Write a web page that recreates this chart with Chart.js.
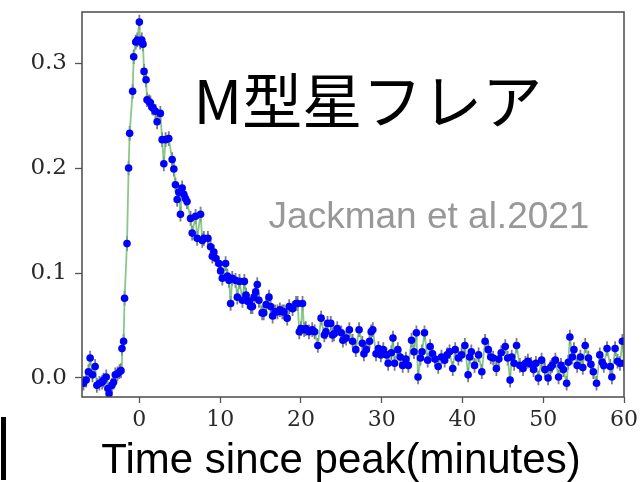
<!DOCTYPE html>
<html>
<head>
<meta charset="utf-8">
<script src="https://cdn.jsdelivr.net/npm/chart.js@4"></script>
<style>
  html, body { margin: 0; padding: 0; background: #fff; }
  canvas { display: block; }
</style>
</head>
<body>
<canvas id="c" width="644" height="482"></canvas>
<script>
// Flare light curve: time since peak (minutes) and relative flux
const timeMin = [
  -6.92,-6.58,-6.3,-6.09,-5.8,-5.47,-5.26,-4.94,-4.6,-4.44,
  -4.1,-3.9,-3.75,-3.4,-3.2,-2.98,-2.7,-2.45,-2.27,-2.15,
  -1.95,-1.83,-1.53,-1.33,-1.2,-0.83,-0.7,-0.45,-0.25,0.0,
  0.1,0.3,0.45,0.58,0.83,0.95,1.2,1.37,1.55,1.7,
  1.99,2.2,2.6,2.82,3.03,3.25,3.64,4.06,4.27,4.47,
  4.68,4.89,5.09,5.3,5.5,5.71,5.9,6.34,6.54,6.96,
  7.16,7.58,7.79,7.99,8.49,8.82,9.03,9.23,9.45,9.85,
  10.06,10.27,10.68,10.9,11.1,11.3,11.5,11.9,12.13,12.4,
  12.76,13.0,13.2,13.4,13.6,13.8,14.0,14.2,14.4,14.6,
  14.8,15.2,15.4,15.7,16.05,16.25,16.5,16.8,17.1,17.4,
  17.7,17.9,18.3,18.55,18.97,19.4,19.6,19.8,20.0,20.2,
  20.4,20.6,21.0,21.4,21.7,22.1,22.5,22.9,23.1,23.3,
  23.7,23.9,24.1,24.5,25.0,25.2,25.6,26.0,26.4,26.8,
  27.2,27.6,27.8,28.1,28.5,28.7,28.9,29.3,29.6,29.9,
  30.2,30.6,30.8,31.2,31.4,31.6,32.0,32.3,32.6,33.0,
  33.3,33.7,34.0,34.3,34.5,34.8,35.0,35.3,35.7,36.0,
  36.3,36.6,37.0,37.4,37.8,38.1,38.4,38.8,39.1,39.5,
  39.9,40.3,40.7,40.9,41.1,41.5,42.0,42.4,42.8,43.2,
  43.5,43.8,44.2,44.5,44.8,45.3,45.6,45.9,46.1,46.4,
  46.7,47.1,47.5,47.8,48.1,48.5,48.8,49.1,49.4,49.8,
  50.2,50.6,50.9,51.1,51.5,51.9,52.2,52.5,52.9,53.1,
  53.3,53.6,53.8,54.2,54.6,54.9,55.2,55.6,55.9,56.2,
  56.6,57.0,57.3,57.5,57.9,58.3,58.5,58.9,59.2,59.5,
  59.8,60.0
];

const flux = [
  -0.005,-0.002,0.006,0.019,0.003,0.011,-0.007,-0.005,-0.004,-0.002,
  0.001,-0.010,-0.015,-0.007,-0.004,0.003,0.004,0.006,0.007,0.028,
  0.035,0.076,0.128,0.200,0.233,0.273,0.306,0.320,0.322,0.339,
  0.320,0.322,0.318,0.292,0.284,0.265,0.263,0.262,0.258,0.257,
  0.254,0.244,0.252,0.227,0.204,0.227,0.228,0.208,0.199,0.184,
  0.170,0.177,0.156,0.181,0.175,0.171,0.168,0.152,0.138,0.154,
  0.133,0.156,0.131,0.133,0.133,0.125,0.116,0.120,0.114,0.109,
  0.102,0.095,0.109,0.097,0.093,0.071,0.095,0.093,0.077,0.092,
  0.074,0.092,0.079,0.073,0.073,0.068,0.068,0.077,0.082,0.089,
  0.074,0.062,0.062,0.070,0.077,0.068,0.059,0.063,0.063,0.065,
  0.063,0.063,0.057,0.068,0.066,0.071,0.071,0.044,0.047,0.071,
  0.046,0.047,0.044,0.046,0.044,0.031,0.057,0.041,0.044,0.052,
  0.052,0.041,0.042,0.047,0.043,0.036,0.038,0.046,0.035,0.027,
  0.046,0.033,0.023,0.027,0.035,0.044,0.046,0.023,0.028,0.022,
  0.027,0.022,0.014,0.024,0.038,0.014,0.027,0.020,0.012,0.018,
  0.012,0.036,0.025,0.043,0.001,0.019,0.025,0.043,0.017,0.030,
  0.023,0.018,0.011,0.020,0.017,0.022,0.025,0.009,0.027,0.019,
  0.022,0.031,0.003,0.020,0.025,0.012,0.022,0.006,0.035,0.027,
  0.020,0.019,0.009,0.018,0.024,0.030,0.019,-0.002,0.020,0.014,
  0.031,0.012,0.009,0.014,0.016,0.013,0.008,0.014,0.000,0.017,
  0.008,0.000,0.010,0.012,0.017,0.001,0.012,0.008,-0.005,0.015,
  0.039,0.020,0.027,0.012,0.020,0.010,0.031,0.019,0.013,0.006,
  -0.005,0.022,0.015,0.012,0.028,0.011,0.001,0.028,0.016,0.014,
  0.035,0.014
];

// Half-height of the error bar on every flux point
const fluxErr = 0.007;

const xTicks = [0, 10, 20, 30, 40, 50, 60];
const yTicks = [0.0, 0.1, 0.2, 0.3];

const titleText = 'M型星フレア';
const creditText = 'Jackman et al.2021';
const xAxisTitle = 'Time since peak(minutes)';

const points = timeMin.map((t, i) => ({ x: t, y: flux[i] }));

const noPadding = s => {
  s.paddingTop = 0; s.paddingBottom = 0;
  s.paddingLeft = 0; s.paddingRight = 0;
};

// Error bars under the curve, frame around the plot, and the text labels
const decor = {
  id: 'decor',
  beforeDatasetsDraw(chart) {
    const { ctx, chartArea: a, scales: { x, y } } = chart;
    ctx.save();
    ctx.beginPath();
    ctx.rect(a.left, a.top, a.right - a.left, a.bottom - a.top);
    ctx.clip();
    ctx.strokeStyle = 'rgba(100,100,100,0.85)';
    ctx.lineWidth = 1.8;
    ctx.beginPath();
    timeMin.forEach((t, i) => {
      const px = x.getPixelForValue(t);
      ctx.moveTo(px, y.getPixelForValue(flux[i] - fluxErr));
      ctx.lineTo(px, y.getPixelForValue(flux[i] + fluxErr));
    });
    ctx.stroke();
    ctx.restore();
  },
  afterDraw(chart) {
    const { ctx, chartArea: a, scales: { x, y } } = chart;
    ctx.save();
    ctx.strokeStyle = '#4a4a4a';
    ctx.lineWidth = 1.5;
    ctx.strokeRect(a.left, a.top, a.right - a.left, a.bottom - a.top);

    ctx.textBaseline = 'alphabetic';
    ctx.textAlign = 'left';
    ctx.fillStyle = '#000';
    ctx.font = '60px "Noto Sans CJK JP"';
    ctx.fillText(titleText, x.getPixelForValue(6.7), y.getPixelForValue(0.2415));

    ctx.fillStyle = '#989898';
    ctx.font = '37px "Liberation Sans"';
    ctx.fillText(creditText, x.getPixelForValue(16.0), y.getPixelForValue(0.1425));

    // axis title, set slightly left of the plot centre
    ctx.fillStyle = '#000';
    ctx.textAlign = 'center';
    ctx.font = '42px "Liberation Sans"';
    ctx.fillText(xAxisTitle, 341, 473);

    // small dark bar at the lower left edge of the figure
    ctx.fillRect(1, 417, 5, 63);
    ctx.restore();
  }
};

new Chart(document.getElementById('c'), {
  type: 'scatter',
  data: {
    datasets: [{
      data: points,
      showLine: true,
      borderColor: 'rgba(110,185,110,0.8)',
      borderWidth: 1.8,
      pointRadius: 3.8,
      pointHoverRadius: 3.8,
      pointBackgroundColor: '#0000ff',
      pointBorderWidth: 0,
      tension: 0
    }]
  },
  options: {
    responsive: false,
    animation: false,
    events: [],
    layout: { padding: { top: 12, right: 20, left: 0, bottom: 0 } },
    plugins: { legend: { display: false }, tooltip: { enabled: false } },
    scales: {
      x: {
        type: 'linear',
        min: -7.1,
        max: 60,
        afterBuildTicks: s => { s.ticks = xTicks.map(v => ({ value: v })); },
        afterFit: s => { s.height = 85; noPadding(s); },
        ticks: {
          font: { family: 'DejaVu Serif', size: 22 },
          color: '#2a2a2a',
          padding: 4,
          maxRotation: 0,
          autoSkip: false,
          callback: v => String(v)
        },
        grid: { drawOnChartArea: false, drawTicks: true, tickLength: 6, color: '#555', tickWidth: 1.3 },
        border: { display: false },
        title: { display: false }
      },
      y: {
        type: 'linear',
        min: -0.0181,
        max: 0.3486,
        afterBuildTicks: s => { s.ticks = yTicks.map(v => ({ value: v })); },
        afterFit: s => { s.width = 82; noPadding(s); },
        ticks: {
          font: { family: 'DejaVu Serif', size: 23 },
          color: '#2a2a2a',
          padding: 8,
          callback: v => v.toFixed(1)
        },
        grid: { drawOnChartArea: false, drawTicks: true, tickLength: 7, color: '#555', tickWidth: 1.3 },
        border: { display: false }
      }
    }
  },
  plugins: [decor]
});
</script>
</body>
</html>
